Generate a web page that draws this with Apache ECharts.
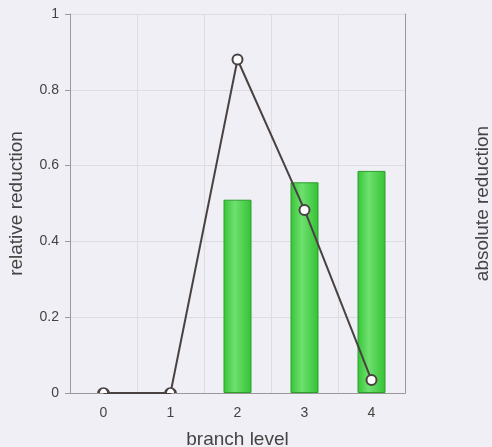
<!DOCTYPE html>
<html>
<head>
<meta charset="utf-8">
<script src="https://cdn.jsdelivr.net/npm/echarts@6/dist/echarts.min.js"></script>
<style>
  html, body { margin: 0; padding: 0; background: #efeff5; }
  #chart { width: 492px; height: 447px; }
</style>
</head>
<body>
<div id="chart"></div>
<script>
var levels = ['0', '1', '2', '3', '4'];
var relative = [0, 0, 0.88, 0.483, 0.034];
var absolute = [null, null, 0.51, 0.556, 0.586];

var chart = echarts.init(document.getElementById('chart'));

var barColor = {
	type: 'linear', x: 0, y: 0, x2: 1, y2: 0,
	colorStops: [
		{ offset: 0, color: '#36c436' },
		{ offset: 0.4, color: '#6fe06f' },
		{ offset: 1, color: '#34c234' }
	]
};

// points sitting on the axis are clipped to a half circle, as in the original
var halfCircle = 'path://M0,10A10,10,0,0,1,20,10';
var lineData = relative.map(function (v) {
	if (v === 0) {
		return { value: v, symbol: halfCircle, symbolSize: [10, 5], symbolOffset: [0, -2.5] };
	}
	return v;
});

chart.setOption({
	backgroundColor: '#efeff5',
	textStyle: { fontFamily: 'Liberation Sans, Arial, sans-serif' },
	grid: { left: 70, right: 87, top: 14, bottom: 54, containLabel: false, outerBoundsMode: 'none' },
	xAxis: {
		type: 'category',
		data: levels,
		name: 'branch level',
		nameLocation: 'middle',
		nameGap: 37,
		nameTextStyle: { fontSize: 19, color: '#444' },
		axisLine: { lineStyle: { color: '#999' } },
		axisTick: { length: 5, lineStyle: { color: '#999' } },
		axisLabel: { fontSize: 14, color: '#444', margin: 13 },
		splitLine: { show: true, lineStyle: { color: '#dcdce2' } }
	},
	yAxis: [{
		type: 'value',
		min: 0, max: 1, interval: 0.2,
		name: 'relative reduction',
		nameLocation: 'middle',
		nameGap: 44,
		nameTextStyle: { fontSize: 19, color: '#444' },
		axisLine: { show: true, lineStyle: { color: '#999' } },
		axisTick: { show: true, length: 5, lineStyle: { color: '#999' } },
		axisLabel: { fontSize: 14, color: '#444', margin: 11 },
		splitLine: { lineStyle: { color: '#dcdce2' } }
	}, {
		type: 'value',
		min: 0, max: 1, interval: 0.2,
		name: 'absolute reduction',
		nameLocation: 'middle',
		nameGap: 68,
		nameTextStyle: { fontSize: 19, color: '#444' },
		axisLine: { show: true, lineStyle: { color: '#999' } },
		axisTick: { show: false },
		axisLabel: { show: false },
		splitLine: { show: false }
	}],
	series: [{
		name: 'absolute',
		type: 'bar',
		yAxisIndex: 1,
		barWidth: 28,
		data: absolute,
		itemStyle: { color: barColor, borderColor: '#2c9e2c', borderWidth: 1 }
	}, {
		name: 'relative',
		type: 'line',
		yAxisIndex: 0,
		data: lineData,
		symbol: 'circle',
		symbolSize: 10,
		lineStyle: { color: '#4a4242', width: 2 },
		itemStyle: { color: '#ffffff', borderColor: '#4a4242', borderWidth: 2 },
		z: 5
	}]
});
</script>
</body>
</html>
